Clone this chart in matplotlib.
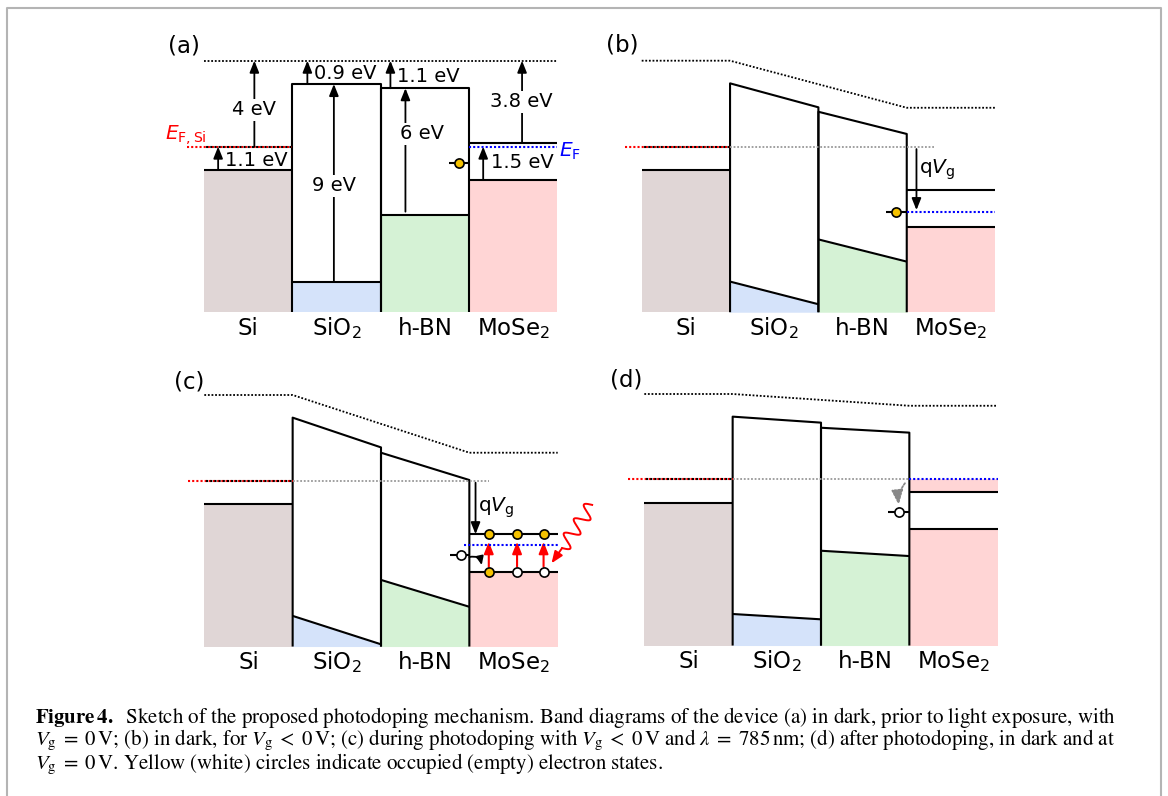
import numpy as np
import matplotlib
matplotlib.use('Agg')
import matplotlib.pyplot as plt
from matplotlib.lines import Line2D

W, H = 1168, 796
PX_X = 88.35   # pixels per layer width
PX_Y = 22.2    # pixels per eV
XLIM = (-0.7, 4.6)
YLIM = (-1.2, 12.8)   # depth below vacuum (eV), top -> bottom

layers = ['Si', 'SiO$_2$', 'h-BN', 'MoSe$_2$']
panel_names = ['(a)', '(b)', '(c)', '(d)']
fill_colors = ['#e0d6d6', '#d5e3fa', '#d5f2d5', '#ffd5d5']

# panel origin in pixels: left edge of Si, vacuum level above Si
panel_x0 = [204.0, 641.7, 204.3, 644.3]
panel_vac = [60.7, 60.7, 395.0, 394.0]

bottom = 11.33

# energies in eV below the vacuum level on the Si side
vac_x = [0, 1, 3, 4]
vac_levels = [[0, 0, 0, 0],
              [0, 0, 2.12, 2.12],
              [0, 0, 2.60, 2.60],
              [0, 0, 0.53, 0.53]]
si_vb = [4.92, 4.92, 4.91, 4.90]
si_ef = [3.87, 3.87, 3.87, 3.83]
sio2_cb = [[1.05, 1.05], [1.02, 2.10], [1.02, 2.36], [1.02, 1.29]]
sio2_vb = [[9.95, 9.95], [9.95, 10.97], [9.95, 11.23], [9.91, 10.15]]
hbn_cb = [[1.24, 1.24], [2.30, 3.30], [2.60, 3.83], [1.52, 1.74]]
hbn_vb = [[6.95, 6.95], [8.05, 9.05], [8.33, 9.54], [7.06, 7.30]]
mose2_cb = [3.69, 5.82, 6.27, 4.43]
mose2_vb = [5.37, 7.50, 7.96, 6.09]
mose2_ef = [3.87, 6.80, 6.76, 3.83]
gray_end = [None, 3.31, 3.22, 3.0]
blue_start = [3.0, 3.0, 2.94, 3.0]

# interface trap state in h-BN (x position, level, occupied?)
trap_x = [2.89, 2.88, 2.90, 2.88]
trap_e = [4.62, 6.80, 7.21, 5.33]
trap_full = [True, True, False, False]

# panel (c): electron states in MoSe2
c_state_x = [3.22, 3.54, 3.84]
c_cb_full = [True, True, True]
c_vb_full = [True, False, False]

# panel (a) gap / offset annotations: x, from, to, label, label x, label y, align
a_arrows = [
    (0.57, 3.87, 0.0, '4 eV', 0.57, 2.22, 'center'),
    (0.16, 4.92, 3.87, '1.1 eV', 0.24, 4.50, 'left'),
    (1.17, 1.05, 0.0, '0.9 eV', 1.25, 0.57, 'left'),
    (1.47, 9.95, 1.05, '9 eV', 1.47, 5.64, 'center'),
    (2.11, 1.24, 0.0, '1.1 eV', 2.19, 0.72, 'left'),
    (2.28, 6.80, 1.24, '6 eV', 2.47, 3.30, 'center'),
    (3.60, 3.69, 0.0, '3.8 eV', 3.59, 1.85, 'center'),
    (3.16, 5.37, 3.87, '1.5 eV', 3.25, 4.58, 'left'),
]

YELLOW = '#f5c200'
LW = 1.5


def varrow(ax, x, y0, y1, color='k', lw=1.3):
    ax.annotate('', xy=(x, y1), xytext=(x, y0),
                arrowprops=dict(arrowstyle='-|>,head_length=0.7,head_width=0.28',
                                color=color, lw=lw, shrinkA=0, shrinkB=0))


def state(ax, x, y, full):
    ax.plot(x, y, 'o', ms=6.6, mew=1.2, mec='k', mfc=YELLOW if full else 'white', zorder=6)


def draw_panel(ax, i):
    bl = dict(color='k', lw=LW, solid_capstyle='butt')
    ax.plot(vac_x, vac_levels[i], color='k', lw=1.3, ls=(0, (1, 1)))
    # Si
    ax.fill_between([0, 1], si_vb[i], bottom, color=fill_colors[0], lw=0)
    ax.plot([0, 1], [si_vb[i]] * 2, **bl)
    # SiO2
    ax.fill_between([1, 2], sio2_vb[i], bottom, color=fill_colors[1], lw=0)
    ax.plot([1, 1, 2, 2], [bottom, sio2_cb[i][0], sio2_cb[i][1], bottom], **bl)
    ax.plot([1, 2], sio2_vb[i], **bl)
    # h-BN
    ax.fill_between([2, 3], hbn_vb[i], bottom, color=fill_colors[2], lw=0)
    ax.plot([2, 2, 3, 3], [bottom, hbn_cb[i][0], hbn_cb[i][1], bottom], **bl)
    ax.plot([2, 3], hbn_vb[i], **bl)
    # MoSe2 (filled up to E_F after photodoping)
    ax.fill_between([3, 4], mose2_vb[i], bottom, color=fill_colors[3], lw=0)
    if i == 3:
        ax.fill_between([3, 4], mose2_ef[i], mose2_cb[i], color=fill_colors[3], lw=0)
    ax.plot([3, 4], [mose2_cb[i]] * 2, **bl)
    ax.plot([3, 4], [mose2_vb[i]] * 2, **bl)

    # Fermi levels
    ax.plot([-0.19, 1], [si_ef[i]] * 2, color='red', lw=1.5, ls=(0, (1, 1)))
    ax.plot([0, 1], [si_ef[i]] * 2, color='k', lw=1.5, ls=(1, (1, 1)))
    if gray_end[i] is not None:
        ax.plot([1, gray_end[i]], [si_ef[i]] * 2, color='#999999', lw=1.3, ls=(0, (1, 1)))
    ax.plot([blue_start[i], 4], [mose2_ef[i]] * 2, color='blue', lw=1.5, ls=(0, (1, 1)), zorder=4)

    # trap state
    ax.plot([trap_x[i] - 0.12, 3], [trap_e[i]] * 2, **bl)
    state(ax, trap_x[i], trap_e[i], trap_full[i])

    for j, name in enumerate(layers):
        ax.text(j + 0.5, 12.05, name, ha='center', va='center', fontsize=16.5)


fig = plt.figure(figsize=(W / 100, H / 100), dpi=100)
axes = []
for i in range(4):
    left = panel_x0[i] + XLIM[0] * PX_X
    width = (XLIM[1] - XLIM[0]) * PX_X
    top = panel_vac[i] + YLIM[0] * PX_Y
    height = (YLIM[1] - YLIM[0]) * PX_Y
    ax = fig.add_axes([left / W, 1 - (top + height) / H, width / W, height / H])
    ax.set_xlim(*XLIM)
    ax.set_ylim(YLIM[1], YLIM[0])
    ax.axis('off')
    draw_panel(ax, i)
    axes.append(ax)

label_pos = [(-0.23, -0.66), (-0.22, -0.71), (-0.17, -0.60), (-0.20, -0.63)]
for ax, name, (lx, ly) in zip(axes, panel_names, label_pos):
    ax.text(lx, ly, name, ha='center', va='center', fontsize=16.5)

# ---- (a) annotations
ax = axes[0]
for x, y0, y1, lab, tx, ty, ha in a_arrows:
    varrow(ax, x, y0, y1)
    box = dict(facecolor='white', edgecolor='none', pad=1.0) if ha == 'center' else None
    ax.text(tx, ty, lab, ha=ha, va='center', fontsize=14, bbox=box, zorder=5)
ax.text(0.03, 3.35, r'$E_{\rm F,Si}$', color='red', ha='right', va='center', fontsize=14.5)
ax.text(4.02, 4.10, r'$E_{\rm F}$', color='blue', ha='left', va='center', fontsize=14.5)

# ---- (b)
ax = axes[1]
varrow(ax, 3.11, 3.98, 6.73)
ax.text(3.14, 4.92, r'q$V_{\rm g}$', ha='left', va='center', fontsize=14.5)

# ---- (c)
ax = axes[2]
varrow(ax, 3.07, 3.95, 6.27)
ax.text(3.10, 5.10, r'q$V_{\rm g}$', ha='left', va='center', fontsize=14.5)
for x, cf, vf in zip(c_state_x, c_cb_full, c_vb_full):
    varrow(ax, x, 7.73, 6.61, color='red', lw=1.5)
    state(ax, x, mose2_cb[2], cf)
    state(ax, x, mose2_vb[2], vf)
ax.annotate('', xy=(3.14, 7.66), xytext=(3.0, 7.30),
            arrowprops=dict(arrowstyle='-|>,head_length=0.5,head_width=0.22',
                            connectionstyle='arc3,rad=-0.5', color='k', lw=1.3,
                            shrinkA=0, shrinkB=0))
# incoming photon
start, tip = np.array([4.39, 4.95]), np.array([3.93, 7.58])
sp, tp = start * [PX_X, PX_Y], tip * [PX_X, PX_Y]
d = tp - sp
L = np.hypot(*d)
u = d / L
n = np.array([-u[1], u[0]])
wl = 0.74 * L
t = np.linspace(0, wl, 300)
off = 7.0 * np.sin(2 * np.pi * 3 * t / wl)
wave = sp + np.outer(t, u) + np.outer(off, n)
ax.plot(wave[:, 0] / PX_X, wave[:, 1] / PX_Y, color='red', lw=1.4)
ax.annotate('', xy=tuple(tip), xytext=(wave[-1, 0] / PX_X, wave[-1, 1] / PX_Y),
            arrowprops=dict(arrowstyle='-|>,head_length=0.7,head_width=0.28',
                            color='red', lw=1.4, shrinkA=0, shrinkB=0))

# ---- (d)
ax = axes[3]
ax.annotate('', xy=(2.88, 5.0), xytext=(2.95, 4.02),
            arrowprops=dict(arrowstyle='-|>,head_length=0.9,head_width=0.35',
                            connectionstyle='arc3,rad=0.2', color='#888888', lw=1.3,
                            ls=(0, (1, 1)), shrinkA=0, shrinkB=0))

# ---- frame
border = dict(color='#b4b4b4', lw=1.5, transform=fig.transFigure)
fig.add_artist(Line2D([7 / W, 7 / W, 1161 / W, 1161 / W], [0, 1 - 8 / H, 1 - 8 / H, 0], **border))

# ---- caption
cap = dict(family='STIXGeneral', math_fontfamily='stix', fontsize=15, ha='left', va='baseline')
fig.text(35 / W, 1 - 723 / H,
         r'$\mathbf{Figure\,4.}$  Sketch of the proposed photodoping mechanism. Band diagrams of the device (a) in dark, prior to light exposure, with',
         **cap)
fig.text(35 / W, 1 - 745 / H,
         r'$V_{\rm g}\;=\;0\,$V; (b) in dark, for $V_{\rm g}\;<\;0\,$V; (c) during photodoping with $V_{\rm g}\;<\;0\,$V and $\lambda\;=\;785\,$nm; (d) after photodoping, in dark and at',
         **cap)
fig.text(35 / W, 1 - 769 / H,
         r'$V_{\rm g}\;=\;0\,$V. Yellow (white) circles indicate occupied (empty) electron states.',
         **cap)

fig.savefig('out.png', dpi=100)
